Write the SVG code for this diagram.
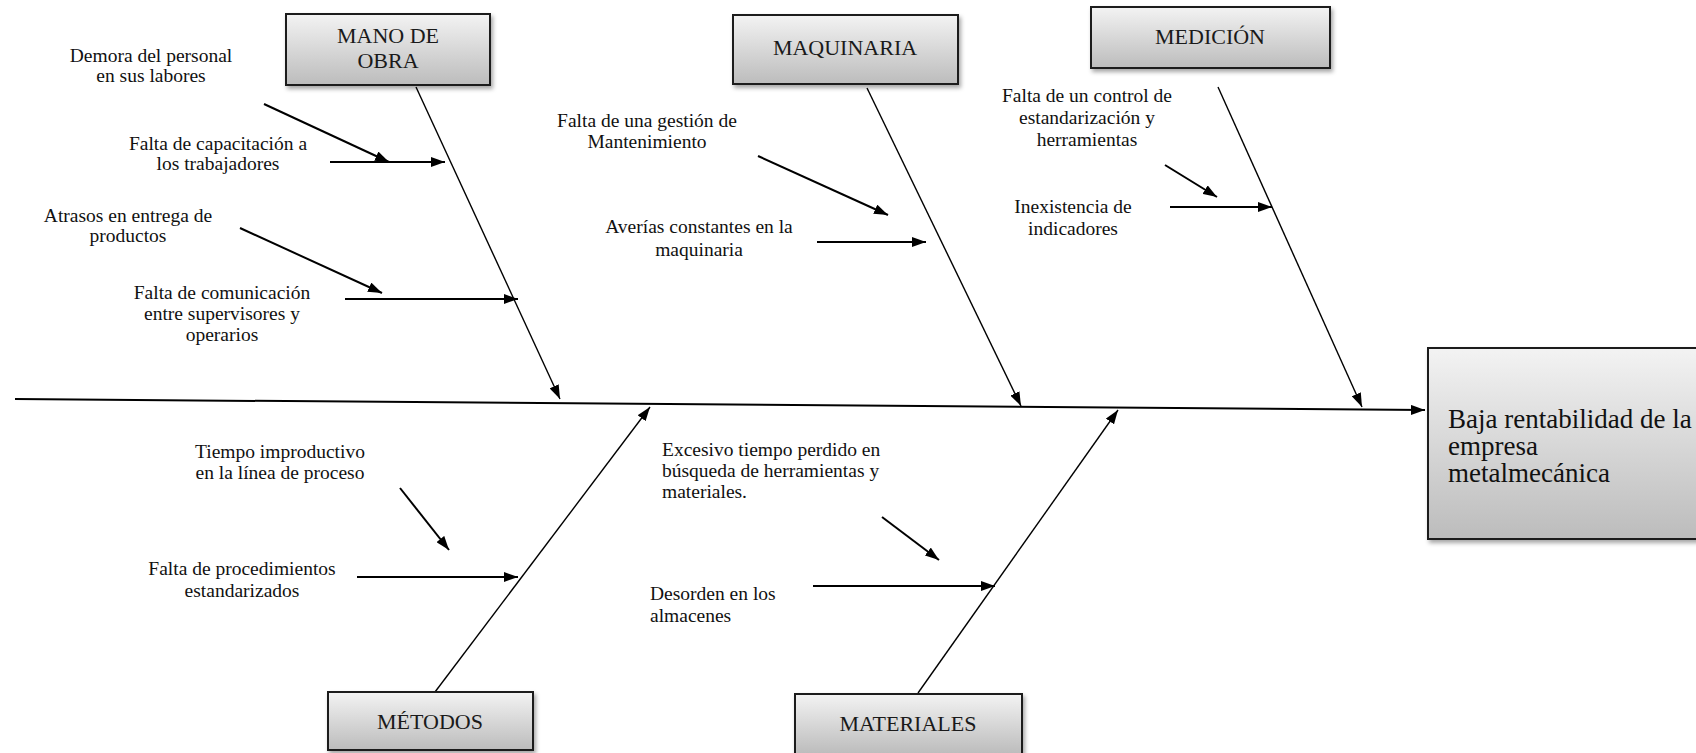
<svg xmlns="http://www.w3.org/2000/svg" width="1696" height="753" viewBox="0 0 1696 753">
<defs>
<linearGradient id="g" x1="0" y1="0" x2="0" y2="1">
<stop offset="0" stop-color="#f3f3f3"/>
<stop offset="1" stop-color="#bcbcbc"/>
</linearGradient>
<filter id="sh" x="-10%" y="-10%" width="130%" height="140%">
<feDropShadow dx="2" dy="3" stdDeviation="2" flood-color="#000" flood-opacity="0.35"/>
</filter>
<marker id="ah" markerUnits="userSpaceOnUse" markerWidth="14" markerHeight="10" refX="14" refY="5" orient="auto">
<path d="M0,0 L14,5 L0,10 z" fill="#000"/>
</marker>
</defs>
<style>
.box{fill:url(#g);stroke:#1a1a1a;stroke-width:2;filter:url(#sh)}
.hd{font-family:"Liberation Serif","Times New Roman",serif;font-size:22px;fill:#1a1a1a;text-anchor:middle}
.lb{font-family:"Liberation Serif","Times New Roman",serif;font-size:19.5px;fill:#111;text-anchor:middle}
.lbl{font-family:"Liberation Serif","Times New Roman",serif;font-size:19.5px;fill:#111}
.ef{font-family:"Liberation Serif","Times New Roman",serif;font-size:27px;fill:#111}
.br{stroke:#000;stroke-width:1.4;fill:none;marker-end:url(#ah)}
.sub{stroke:#000;stroke-width:2;fill:none;marker-end:url(#ah)}
.sp{stroke:#000;stroke-width:2;fill:none;marker-end:url(#ah)}
</style>
<rect width="1696" height="753" fill="#fff"/>

<g id="connectors">
<line class="sp" x1="15" y1="399" x2="1425" y2="410"/>
<line class="br" x1="416" y1="87" x2="560" y2="399"/>
<line class="br" x1="867" y1="88" x2="1021" y2="406"/>
<line class="br" x1="1218" y1="87" x2="1362" y2="407"/>
<line class="br" x1="435" y1="692" x2="650" y2="407"/>
<line class="br" x1="918" y1="693" x2="1118" y2="410"/>
<line class="sub" x1="264" y1="104" x2="389" y2="162"/>
<line class="sub" x1="330" y1="162" x2="445" y2="162"/>
<line class="sub" x1="240" y1="228" x2="382" y2="293"/>
<line class="sub" x1="345" y1="299" x2="518" y2="299"/>
<line class="sub" x1="758" y1="156" x2="888" y2="215"/>
<line class="sub" x1="817" y1="242" x2="926" y2="242"/>
<line class="sub" x1="1165" y1="165" x2="1217" y2="197"/>
<line class="sub" x1="1170" y1="207" x2="1272" y2="207"/>
<line class="sub" x1="400" y1="488" x2="449" y2="550"/>
<line class="sub" x1="357" y1="577" x2="518" y2="577"/>
<line class="sub" x1="882" y1="517" x2="939" y2="560"/>
<line class="sub" x1="813" y1="586" x2="995" y2="586"/>
</g>

<g id="mano-de-obra">
<rect class="box" x="286" y="14" width="204" height="71"/>
<text class="hd" x="388" y="43">MANO DE</text>
<text class="hd" x="388" y="68">OBRA</text>
</g>
<g id="maquinaria">
<rect class="box" x="733" y="15" width="225" height="69"/>
<text class="hd" x="845" y="55">MAQUINARIA</text>
</g>
<g id="medicion">
<rect class="box" x="1091" y="7" width="239" height="61"/>
<text class="hd" x="1210" y="44">MEDICIÓN</text>
</g>
<g id="metodos">
<rect class="box" x="328" y="692" width="205" height="58"/>
<text class="hd" x="430" y="729">MÉTODOS</text>
</g>
<g id="materiales">
<rect class="box" x="795" y="694" width="227" height="60"/>
<text class="hd" x="908" y="731">MATERIALES</text>
</g>
<g id="efecto">
<rect class="box" x="1428" y="348" width="280" height="191"/>
<text class="ef" x="1448" y="428">Baja rentabilidad de la</text>
<text class="ef" x="1448" y="455">empresa</text>
<text class="ef" x="1448" y="482">metalmecánica</text>
</g>

<g id="causa-demora">
<text class="lb" x="151" y="62">Demora del personal</text>
<text class="lb" x="151" y="82">en sus labores</text>
</g>
<g id="causa-capacitacion">
<text class="lb" x="218" y="150">Falta de capacitación a</text>
<text class="lb" x="218" y="170">los trabajadores</text>
</g>
<g id="causa-atrasos">
<text class="lb" x="128" y="222">Atrasos en entrega de</text>
<text class="lb" x="128" y="242">productos</text>
</g>
<g id="causa-comunicacion">
<text class="lb" x="222" y="299">Falta de comunicación</text>
<text class="lb" x="222" y="320">entre supervisores y</text>
<text class="lb" x="222" y="341">operarios</text>
</g>
<g id="causa-mantenimiento">
<text class="lb" x="647" y="127">Falta de una gestión de</text>
<text class="lb" x="647" y="148">Mantenimiento</text>
</g>
<g id="causa-averias">
<text class="lb" x="699" y="233">Averías constantes en la</text>
<text class="lb" x="699" y="256">maquinaria</text>
</g>
<g id="causa-control">
<text class="lb" x="1087" y="102">Falta de un control de</text>
<text class="lb" x="1087" y="124">estandarización y</text>
<text class="lb" x="1087" y="146">herramientas</text>
</g>
<g id="causa-indicadores">
<text class="lb" x="1073" y="213">Inexistencia de</text>
<text class="lb" x="1073" y="235">indicadores</text>
</g>
<g id="causa-tiempo">
<text class="lb" x="280" y="458">Tiempo improductivo</text>
<text class="lb" x="280" y="479">en la línea de proceso</text>
</g>
<g id="causa-procedimientos">
<text class="lb" x="242" y="575">Falta de procedimientos</text>
<text class="lb" x="242" y="597">estandarizados</text>
</g>
<g id="causa-busqueda">
<text class="lbl" x="662" y="456">Excesivo tiempo perdido en</text>
<text class="lbl" x="662" y="477">búsqueda de herramientas y</text>
<text class="lbl" x="662" y="498">materiales.</text>
</g>
<g id="causa-desorden">
<text class="lbl" x="650" y="600">Desorden en los</text>
<text class="lbl" x="650" y="622">almacenes</text>
</g>
</svg>
